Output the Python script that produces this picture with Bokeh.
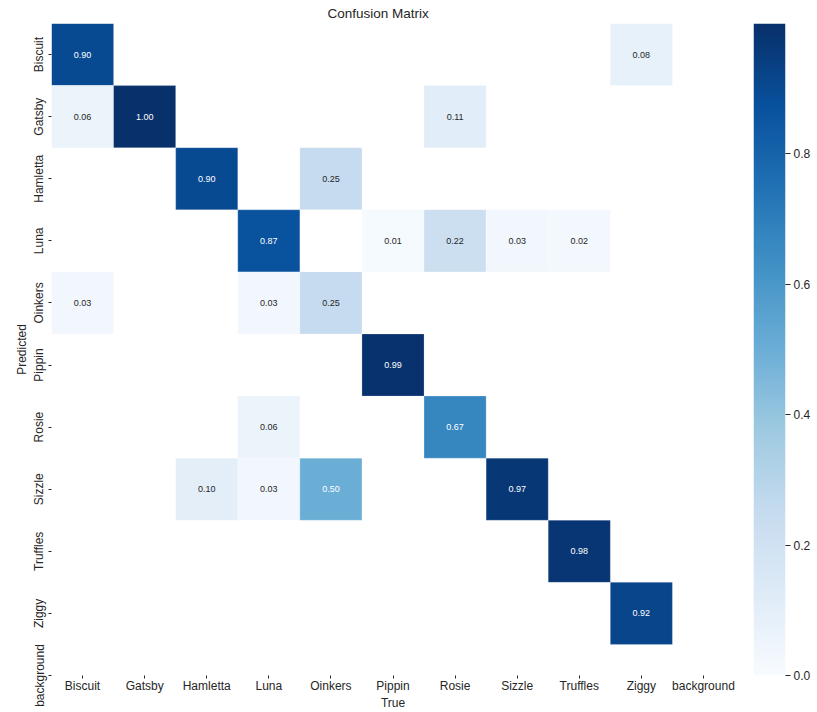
import numpy as np
from bokeh.plotting import figure
from bokeh.models import (ColumnDataSource, LinearColorMapper, FixedTicker,
                          PrintfTickFormatter, Range1d)
from bokeh.layouts import row
from bokeh.embed import file_html
from bokeh.resources import INLINE

classes = ["Biscuit", "Gatsby", "Hamletta", "Luna", "Oinkers", "Pippin",
           "Rosie", "Sizzle", "Truffles", "Ziggy", "background"]

# non-empty cells of the normalised confusion matrix (row = Predicted, column = True)
cell_pred = ["Biscuit", "Biscuit",
             "Gatsby", "Gatsby", "Gatsby",
             "Hamletta", "Hamletta",
             "Luna", "Luna", "Luna", "Luna", "Luna",
             "Oinkers", "Oinkers", "Oinkers",
             "Pippin",
             "Rosie", "Rosie",
             "Sizzle", "Sizzle", "Sizzle", "Sizzle",
             "Truffles",
             "Ziggy"]
cell_true = ["Biscuit", "Ziggy",
             "Biscuit", "Gatsby", "Rosie",
             "Hamletta", "Oinkers",
             "Luna", "Pippin", "Rosie", "Sizzle", "Truffles",
             "Biscuit", "Luna", "Oinkers",
             "Pippin",
             "Luna", "Rosie",
             "Hamletta", "Luna", "Oinkers", "Sizzle",
             "Truffles",
             "Ziggy"]
cell_value = [0.90, 0.08,
              0.06, 1.00, 0.11,
              0.90, 0.25,
              0.87, 0.01, 0.22, 0.03, 0.02,
              0.03, 0.03, 0.25,
              0.99,
              0.06, 0.67,
              0.10, 0.03, 0.50, 0.97,
              0.98,
              0.92]
colorbar_ticks = [0.0, 0.2, 0.4, 0.6, 0.8]
vmin, vmax = 0.0, 1.0

# matplotlib "Blues" colormap (light -> dark), built from its 9 anchors
blues9 = ["#f7fbff", "#deebf7", "#c6dbef", "#9ecae1", "#6baed6",
          "#4292c6", "#2171b5", "#08519c", "#08306b"]
anchors = np.array([[int(c[i:i + 2], 16) for i in (1, 3, 5)] for c in blues9], float)
pos = np.linspace(0, 1, len(blues9))
tt = np.linspace(0, 1, 256)
rgb = np.stack([np.interp(tt, pos, anchors[:, k]) for k in range(3)], axis=1)
palette = ["#%02x%02x%02x" % tuple(int(round(v)) for v in r) for r in rgb]


def text_color(v):
    idx = min(int((v - vmin) / (vmax - vmin) * 256), 255)
    c = rgb[idx] / 255.0
    lin = np.where(c <= 0.03928, c / 12.92, ((c + 0.055) / 1.055) ** 2.4)
    lum = 0.2126 * lin[0] + 0.7152 * lin[1] + 0.0722 * lin[2]
    return "#262626" if lum > 0.408 else "#ffffff"


idx_of = {c: i for i, c in enumerate(classes)}
src = ColumnDataSource(dict(
    x=[idx_of[c] for c in cell_true],
    y=[idx_of[c] for c in cell_pred],
    v=cell_value,
    label=["%.2f" % v for v in cell_value],
    tcolor=[text_color(v) for v in cell_value],
))

FONT = "Liberation Sans"
INK = "#262626"
H = 712
TOP, BOTTOM = 23, 36


def style_axis(ax, transparent=False):
    ax.axis_line_color = None
    ax.minor_tick_line_color = None
    ax.major_tick_in = 0
    ax.major_tick_out = 3
    ax.major_tick_line_color = None if transparent else INK
    ax.major_tick_line_width = 1
    ax.major_label_text_font = FONT
    ax.major_label_text_font_size = "12px"
    ax.major_label_text_color = None if transparent else INK
    ax.major_label_standoff = 0
    ax.axis_label_text_font = FONT
    ax.axis_label_text_font_size = "12px"
    ax.axis_label_text_font_style = "normal"
    ax.axis_label_text_color = None if transparent else INK
    ax.axis_label_standoff = 0


# ---------------- heatmap ----------------
p = figure(width=752, height=H,
           x_range=Range1d(-0.5, len(classes) - 0.5),
           y_range=Range1d(len(classes) - 1, -0.5),
           output_backend="svg", toolbar_location=None,
           min_border_left=51, min_border_right=18,
           min_border_top=TOP, min_border_bottom=BOTTOM)
p.outline_line_color = None
p.grid.visible = False
p.background_fill_color = "white"
p.border_fill_color = "white"

p.title.text = "Confusion Matrix"
p.title.align = "left"
p.title.offset = 276
p.title.standoff = 6
p.title.text_font = FONT
p.title.text_font_size = "13.5px"
p.title.text_font_style = "normal"
p.title.text_color = INK

mapper = LinearColorMapper(palette=palette, low=vmin, high=vmax)
p.rect(x="x", y="y", width=1, height=1, source=src,
       fill_color={"field": "v", "transform": mapper},
       line_color="white", line_width=0.6, line_alpha=0.35)
p.text(x="x", y="y", text="label", source=src, text_color="tcolor",
       text_align="center", text_baseline="middle",
       text_font_size="9px", text_font={"value": FONT})

tick_labels = {i: c for i, c in enumerate(classes)}
for ax in (p.xaxis[0], p.yaxis[0]):
    ax.ticker = FixedTicker(ticks=list(range(len(classes))))
    ax.major_label_overrides = tick_labels
    style_axis(ax)
p.yaxis.major_label_standoff = 2
p.yaxis.axis_label_standoff = 1

p.xaxis.axis_label = "True"
p.yaxis.axis_label = "Predicted"
p.yaxis.major_label_orientation = "vertical"

# ---------------- colour bar ----------------
cb = figure(width=65, height=H,
            x_range=Range1d(0, 1), y_range=Range1d(vmin, vmax),
            y_axis_location="right",
            output_backend="svg", toolbar_location=None,
            min_border_left=1, min_border_right=32,
            min_border_top=TOP, min_border_bottom=BOTTOM)
cb.outline_line_color = None
cb.grid.visible = False
cb.background_fill_color = "white"
cb.border_fill_color = "white"

gradient = np.linspace(vmin, vmax, 512).reshape(-1, 1)
cb.image(image=[gradient], x=0, y=vmin, dw=1, dh=vmax - vmin,
         color_mapper=mapper)

cax = cb.yaxis[0]
cax.ticker = FixedTicker(ticks=colorbar_ticks)
cax.formatter = PrintfTickFormatter(format="%.1f")
cax.axis_line_color = None
cax.minor_tick_line_color = None
cax.major_tick_in = 0
cax.major_tick_out = 5
cax.major_tick_line_color = INK
cax.major_label_text_font = FONT
cax.major_label_text_font_size = "12px"
cax.major_label_text_color = INK
cax.major_label_standoff = 3

# invisible twin of the heatmap's x axis, so both frames get the same height
bx = cb.xaxis[0]
bx.ticker = FixedTicker(ticks=[0.5])
bx.major_label_overrides = {0.5: "Biscuit"}
bx.axis_label = "True"
style_axis(bx, transparent=True)

layout = row(p, cb)
open("out.html", "w").write(file_html(layout, INLINE))
